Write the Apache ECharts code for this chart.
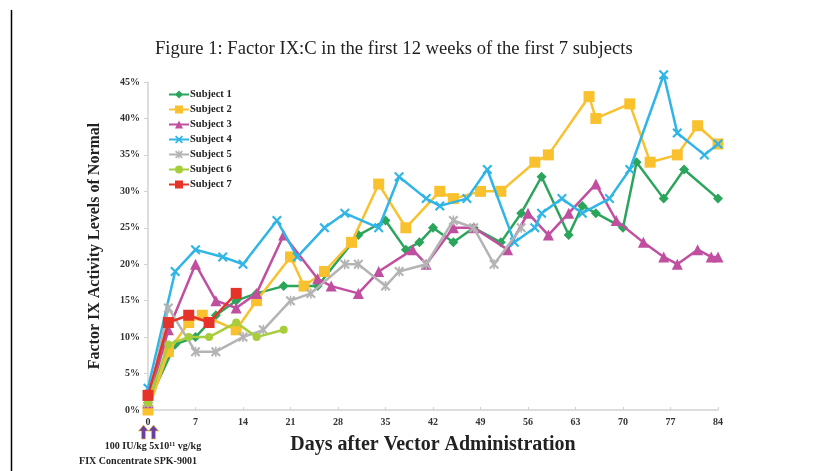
<!DOCTYPE html>
<html lang="en">
<head>
    <meta charset="UTF-8" />
    <title>Factor IX:C</title>
    <script src="https://cdn.jsdelivr.net/npm/echarts@6/dist/echarts.min.js"></script>
</head>
<body style="margin:0;background:#fff">
<div id="main" style="width:822px;height:471px"></div>
<script type="text/javascript">
    // [day, % of normal]
    var subject1 = [[0,1],[4,9],[7,10],[10,13],[13,15],[16,16],[20,17],[25,17],[31,24],[35,26],[38,22],[40,23],[42,25],[45,23],[48,25],[52,23],[55,27],[58,32],[62,24],[64,28],[66,27],[70,25],[72,34],[76,29],[79,33],[84,29]];
    var subject2 = [[0,0],[3,8],[6,12],[8,13],[13,11],[16,15],[21,21],[23,17],[26,19],[30,23],[34,31],[38,25],[43,30],[45,29],[49,30],[52,30],[57,34],[59,35],[65,43],[66,40],[71,42],[74,34],[78,35],[81,39],[84,36.5]];
    var subject3 = [[0,1],[3,11],[7,20],[10,15],[13,14],[16,16],[20,24],[25,18],[27,17],[31,16],[34,19],[39,22],[41,20],[45,25],[48,25],[53,22],[56,27],[59,24],[62,27],[66,31],[69,26],[73,23],[76,21],[78,20],[81,22],[83,21],[84,21]];
    var subject4 = [[0,3],[4,19],[7,22],[11,21],[14,20],[19,26],[22,21],[26,25],[29,27],[34,25],[37,32],[41,29],[43,28],[47,29],[50,33],[54,23],[57,25],[58,27],[61,29],[64,27],[68,29],[71,33],[76,46],[78,38],[82,35],[84,36.5]];
    var subject5 = [[0,1],[3,14],[7,8],[10,8],[14,10],[17,11],[21,15],[24,16],[29,20],[31,20],[35,17],[37,19],[41,20],[45,26],[48,25],[51,20],[55,25]];
    var subject6 = [[0,1],[3,9],[6,10],[9,10],[13,12],[16,10],[20,11]];
    var subject7 = [[0,2],[3,12],[6,13],[9,12],[13,16]];

    var names = ['Subject 1','Subject 2','Subject 3','Subject 4','Subject 5','Subject 6','Subject 7'];
    var colors = ['#2ca55c','#f9c12e','#c14fa0','#2fb5e6','#b4b4b4','#a8cd3b','#e63329'];

    var xMark = 'path://M1.5,0 L5,3.5 L8.5,0 L10,1.5 L6.5,5 L10,8.5 L8.5,10 L5,6.5 L1.5,10 L0,8.5 L3.5,5 L0,1.5 Z';
    var starMark = 'path://M1.5,0 L5,3.5 L8.5,0 L10,1.5 L6.5,5 L10,8.5 L8.5,10 L5,6.5 L1.5,10 L0,8.5 L3.5,5 L0,1.5 Z M4.2,0 L5.8,0 L5.8,10 L4.2,10 Z';
    var symbols = ['diamond','rect','triangle',xMark,starMark,'circle','rect'];
    var sizes = [10,11,11,10,10,8,11];

    var serif = 'Liberation Serif';
    var myChart = echarts.init(document.getElementById('main'));

    var dataList = [subject1,subject2,subject3,subject4,subject5,subject6,subject7];
    var series = [];
    for (var i = 0; i < dataList.length; i++) {
        series.push({
            name: names[i],
            type: 'line',
            data: dataList[i],
            symbol: symbols[i],
            symbolSize: sizes[i],
            clip: false,
            lineStyle: { width: 2.5, color: colors[i] },
            itemStyle: { color: colors[i] },
            z: 2 + i
        });
    }

    var option = {
        animation: false,
        title: {
            text: 'Figure 1: Factor IX:C in the first 12 weeks of the first 7 subjects',
            left: 150,
            top: 35,
            textStyle: { fontFamily: serif, fontSize: 18.6, fontWeight: 'normal', color: '#222' }
        },
        legend: {
            data: names,
            orient: 'vertical',
            left: 163,
            top: 84,
            itemGap: 4,
            itemWidth: 20,
            itemHeight: 10,
            textStyle: { fontFamily: serif, fontSize: 10.5, fontWeight: 'bold', color: '#222', padding: [0,0,0,-4] }
        },
        grid: { left: 148, right: 104, top: 82, bottom: 61, containLabel: false },
        xAxis: {
            type: 'value',
            min: 0, max: 84, interval: 7,
            name: 'Days after Vector Administration',
            nameLocation: 'middle',
            nameGap: 25,
            nameTextStyle: { fontFamily: serif, fontSize: 20, fontWeight: 'bold', color: '#222' },
            axisLine: { lineStyle: { color: '#d2d2d2', width: 1.5 } },
            axisTick: { show: true, length: 3, inside: true, lineStyle: { color: '#d2d2d2' } },
            axisLabel: { fontFamily: serif, fontSize: 10, fontWeight: 'bold', color: '#333', margin: 7 },
            splitLine: { show: false }
        },
        yAxis: {
            type: 'value',
            min: 0, max: 45, interval: 5,
            name: 'Factor IX Activity Levels of Normal',
            nameLocation: 'middle',
            nameGap: 45,
            nameTextStyle: { fontFamily: serif, fontSize: 16, fontWeight: 'bold', color: '#222' },
            axisLine: { show: true, lineStyle: { color: '#d2d2d2', width: 1.5 } },
            axisTick: { show: true, length: 4, lineStyle: { color: '#d2d2d2' } },
            axisLabel: { formatter: '{value}%', fontFamily: serif, fontSize: 10, fontWeight: 'bold', color: '#333', margin: 8 },
            splitLine: { show: false }
        },
        graphic: [
            { type: 'line', shape: { x1: 11.5, y1: 10, x2: 11.5, y2: 471 }, style: { stroke: '#000', lineWidth: 1.5 } },
            { type: 'polygon', shape: { points: [[143.5,425],[148.5,431],[145.5,431],[145.5,439],[141.5,439],[141.5,431],[138.5,431]] }, style: { fill: '#6b3fa0', stroke: '#e8c040', lineWidth: 0.7 } },
            { type: 'polygon', shape: { points: [[153.5,425],[158.5,431],[155.5,431],[155.5,439],[151.5,439],[151.5,431],[148.5,431]] }, style: { fill: '#6b3fa0', stroke: '#e8c040', lineWidth: 0.7 } },
            { type: 'text', x: 153, y: 446, style: { text: '100 IU/kg 5x10\u00b9\u00b9 vg/kg', fontFamily: serif, fontSize: 10, fontWeight: 'bold', fill: '#222', align: 'center', verticalAlign: 'middle' } },
            { type: 'text', x: 138, y: 461, style: { text: 'FIX Concentrate SPK-9001', fontFamily: serif, fontSize: 10, fontWeight: 'bold', fill: '#222', align: 'center', verticalAlign: 'middle' } }
        ],
        series: series
    };
    myChart.setOption(option);
</script>
</body>
</html>
